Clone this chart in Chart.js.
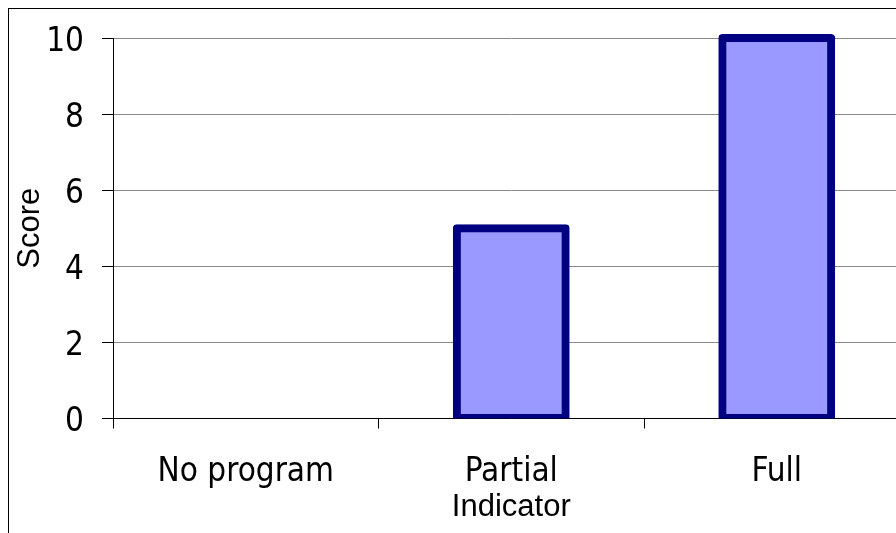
<!DOCTYPE html>
<html>
<head>
<meta charset="utf-8">
<script src="https://cdn.jsdelivr.net/npm/chart.js@4/dist/chart.umd.min.js"></script>
<style>
  html, body { margin: 0; padding: 0; background: #fff; overflow: hidden; width: 896px; height: 533px; }
  #frame { position: absolute; left: 8px; top: 8px; width: 2000px; height: 2000px;
           border-left: 1px solid #000; border-top: 1px solid #000; box-sizing: border-box; }
  #c { position: absolute; left: 0; top: 0; }
</style>
</head>
<body>
<div id="frame"></div>
<canvas id="c" width="960" height="533"></canvas>
<script>
// Score per indicator level
const categories = ['No program', 'Partial', 'Full'];
const scores = [0, 5, 10];
const yTickValues = [0, 2, 4, 6, 8, 10];
const xTitle = 'Indicator';
const yTitle = 'Score';

const tickFont = { family: "'DejaVu Sans Condensed', 'DejaVu Sans', sans-serif", size: 33 };
const titleFont = { family: "'Liberation Sans', Arial, sans-serif", size: 31 };

new Chart(document.getElementById('c'), {
  type: 'bar',
  data: {
    labels: categories,
    datasets: [{
      data: scores,
      backgroundColor: '#9999FF',
      borderColor: '#000080',
      borderWidth: ctx => (ctx.raw > 0 ? 8 : 0),
      inflateAmount: ctx => (ctx.raw > 0 ? 4 : 0),
      borderSkipped: false,
      borderRadius: 4,
      barPercentage: 0.41,
      categoryPercentage: 1,
      clip: { left: 10, top: 10, right: 10, bottom: 0 }
    }]
  },
  options: {
    responsive: false,
    devicePixelRatio: 1,
    animation: false,
    layout: { padding: { left: 0, top: 38, right: 50.5, bottom: 0 } },
    plugins: { legend: { display: false }, tooltip: { enabled: false } },
    scales: {
      x: {
        afterFit: s => { s.height = 114.5; },
        grid: { drawOnChartArea: false, drawTicks: true, tickLength: 10, tickColor: '#000', offset: true },
        border: { color: '#000', width: 1 },
        ticks: { color: '#000', font: tickFont, padding: 24, maxRotation: 0, autoSkip: false },
        title: { display: true, text: xTitle, color: '#000', font: titleFont, padding: { top: 0, bottom: 7 } }
      },
      y: {
        min: 0,
        max: 10,
        afterFit: s => { s.width = 113; },
        afterBuildTicks: s => { s.ticks = yTickValues.map(v => ({ value: v })); },
        grid: { color: '#8a8a8a', lineWidth: 1, drawTicks: true, tickLength: 11, tickColor: '#000' },
        border: { color: '#000', width: 1 },
        ticks: { color: '#000', font: tickFont, padding: 18, labelOffset: 4 },
        title: { display: true, text: yTitle, color: '#000', font: titleFont, padding: { top: 12, bottom: 0 } }
      }
    }
  }
});
</script>
</body>
</html>
